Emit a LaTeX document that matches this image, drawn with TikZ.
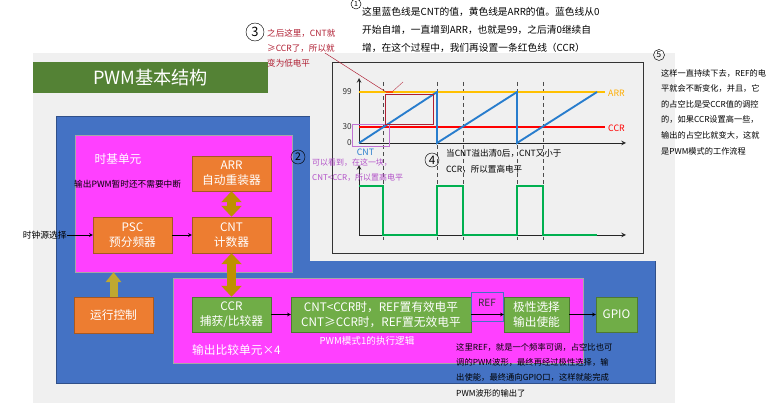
\documentclass[tikz,border=0pt]{standalone}
\usepackage{fontspec}
\setmainfont{Noto Sans CJK SC}
\usetikzlibrary{arrows.meta,positioning}
\definecolor{panelgray}{RGB}{240,240,240}
\definecolor{titlegreen}{RGB}{84,130,53}
\definecolor{unitblue}{RGB}{68,114,196}
\definecolor{unitpink}{RGB}{255,64,255}
\definecolor{boxorange}{RGB}{237,125,49}
\definecolor{boxgreen}{RGB}{112,173,71}
\definecolor{arrgold}{RGB}{191,144,0}
\definecolor{runolive}{RGB}{191,168,48}
\definecolor{arryellow}{RGB}{255,192,0}
\definecolor{cntblue}{RGB}{40,125,205}
\definecolor{pwmgreen}{RGB}{0,176,80}
\definecolor{notered}{RGB}{175,30,50}
\definecolor{notepurple}{RGB}{178,80,200}
\newcommand\fsz[2]{\fontsize{#1}{#2}\selectfont}
\begin{document}
\begin{tikzpicture}[x=0.03cm, y=-0.03cm, >=stealth,
  sz/.style 2 args={minimum width=#1*0.03cm, minimum height=#2*0.03cm},
  blk/.style={draw=#1!70!black, fill=#1, text=white, align=center, inner sep=0pt, font=\fsz{10}{12.5}},
  unit/.style={fill=unitpink, draw=black!35, inner sep=0pt},
  goldarr/.style={draw=arrgold, line width=0.27cm, >={Triangle[width=0.6cm,length=0.33cm]}, <->},
  runarr/.style={draw=runolive, line width=0.24cm, >={Triangle[width=0.46cm,length=0.3cm]}, ->},
  axis/.style={thick, black!85, ->},
  level/.style={line width=1.6pt},
  note/.style={align=left, inner sep=0pt, anchor=west}]
\useasboundingbox (0,0) rectangle (775,403);
% background panel and title
\fill[panelgray] (33,53) rectangle (675,403);
\node[fill=titlegreen, sz={235}{31}, inner sep=0pt, text=white, font=\fsz{15.5}{16}] (title) at (150.5,77.5) {PWM基本结构};
\node[fill=unitblue, draw=unitblue!70!black, sz={599}{267}, inner sep=0pt] (pwm) at (355.5,249.5) {};
\fill[panelgray] (310,100) rectangle (665,261);
\draw[black!80] (332,62) rectangle (643,253);
% time base unit
\node[unit, sz={217}{137}] (tbase) at (183.5,203.5) {};
\node[text=white, font=\fsz{10}{12}] (tbname) at (118,159) {时基单元};
\node[note, font=\fsz{7.4}{9}] (irq) at (74,184) {输出PWM暂时还不需要中断};
\node[blk=boxorange, sz={79}{35}] (arr) at (231.5,173.5) {ARR\\自动重装器};
\node[blk=boxorange, sz={79}{36}] (psc) at (132.5,235) {PSC\\预分频器};
\node[blk=boxorange, sz={79}{36}] (cnt) at (231.5,235) {CNT\\计数器};
\node[anchor=east, inner sep=0pt, font=\fsz{7.5}{9}] (clk) at (67,235) {时钟源选择};
\draw[->] (clk) -- (psc);
\draw[->] (psc) -- (cnt);
\draw[goldarr] (arr) -- (cnt);
% run control
\node[blk=boxorange, sz={79}{36}] (run) at (113.5,315) {运行控制};
\draw[runarr] (run.north) -- (run.north |- tbase.south);
% output compare unit
\node[unit, sz={410}{85}] (ocmp) at (378,320.5) {};
\node[note, text=white, font=\fsz{10}{12}] (ocname) at (192,350) {输出比较单元×4};
\node[blk=boxgreen, sz={79}{35}] (ccr) at (231.5,314.5) {CCR\\捕获/比较器};
\node[blk=boxgreen, sz={180}{35}] (logic) at (381,314.5) {CNT<CCR时，REF置有效电平\\CNT≥CCR时，REF置无效电平};
\node[text=white, font=\fsz{8.2}{10}] (mode) at (367,341) {PWM模式1的执行逻辑};
\node[draw=unitblue, fill=unitpink, sz={32}{29}, inner sep=0pt] (ref) at (487,306.5) {};
\node[font=\fsz{8.5}{10}, text=black!80] (reftxt) at (487,303) {REF};
\node[blk=boxgreen, sz={65}{35}] (pol) at (536.5,314.5) {极性选择\\输出使能};
\node[blk=boxgreen, sz={41}{35}] (gpio) at (616.5,314.5) {GPIO};
\draw[goldarr] (cnt) -- (ccr);
\draw[->] (ccr) -- (logic);
\draw[->] (logic) -- (pol);
\draw[->] (pol) -- (gpio);
% timing chart
\foreach \x in {383,437,463,517,543} {
\draw[dashed, black!70] (\x,82) -- (\x,243);}
\draw[axis] (359,143) -- (626,143);
\draw[axis] (359,143) -- (359,78);
\draw[axis] (359,235) -- (626,235);
\draw[axis] (359,235) -- (359,165);
\draw[level, arryellow] (359,92) -- (605,92);
\draw[level, red] (359,127) -- (605,127);
\draw[level, cntblue] (359,143) -- (437,92) -- (437,143) -- (517,92) -- (517,143) -- (597,92);
\draw[level, pwmgreen] (359,186) -- (383,186) -- (383,235) -- (437,235) -- (437,186) -- (463,186)
  -- (463,235) -- (517,235) -- (517,186) -- (543,186) -- (543,235) -- (597,235);
\foreach \v/\y in {99/92, 30/127, 0/143} {
\node[anchor=east, inner sep=0pt, font=\fsz{7}{8}, text=black!80] (lv\v) at (352,\y) {\v};}
\node[anchor=west, inner sep=0pt, font=\fsz{7.5}{9}, text=arryellow!90!red] (larr) at (608,93) {ARR};
\node[anchor=west, inner sep=0pt, font=\fsz{7.5}{9}, text=red] (lccr) at (608,128) {CCR};
\node[inner sep=0pt, font=\fsz{7.5}{9}, text=cntblue] (lcnt) at (365.5,152) {CNT};
\draw[notepurple!80] (352,124) rectangle (389,146);
\draw[notered, semithick] (385,94) rectangle (433,124);
% annotations
\foreach \n/\cx/\cy/\d/\f in {1/356/4/10/6, 3/255/32/18/11, 2/298/157/14/9, 4/432/160/14/10, 5/659/55/11/7} {
\node[circle, draw, thin, minimum size=\d*0.03cm, inner sep=0pt, font=\fsz{\f}{\f}] (c\n) at (\cx,\cy) {\n};}
\node[note, font=\fsz{8.3}{15.4}] (t1) at (362,30) {这里蓝色线是CNT的值，黄色线是ARR的值。蓝色线从0\\开始自增，一直增到ARR，也就是99，之后清0继续自\\增，在这个过程中，我们再设置一条红色线（CCR）};
\node[note, font=\fsz{7.3}{12.8}, text=notered] (t3) at (267,48) {之后这里，CNT就\\≥CCR了，所以就\\变为低电平};
\coordinate (hit) at (386,92);
\draw[notered] (325,53) -- (hit);
\fill[red!60!arryellow] (386,91.5) rectangle (393,93.5);
\draw[notered!80] (393,91) -- (403,82);
\node[note, font=\fsz{6.8}{12.8}, text=notepurple] (t2) at (312,170.5) {可以看到，在这一块，\\CNT<CCR，所以置高电平};
\node[note, font=\fsz{7.3}{13.7}] (t4) at (446,161) {当CNT溢出清0后，CNT又小于\\CCR，所以置高电平};
\node[note, font=\fsz{7}{13.3}] (t5) at (661,112) {这样一直持续下去，REF的电\\平就会不断变化，并且，它\\的占空比是受CCR值的调控\\的，如果CCR设置高一些，\\输出的占空比就变大，这就\\是PWM模式的工作流程};
\node[note, font=\fsz{7.1}{13.1}] (t6) at (456,370) {这里REF，就是一个频率可调，占空比也可\\调的PWM波形，最终再经过极性选择，输\\出使能，最终通向GPIO口，这样就能完成\\PWM波形的输出了};
\end{tikzpicture}
\end{document}
